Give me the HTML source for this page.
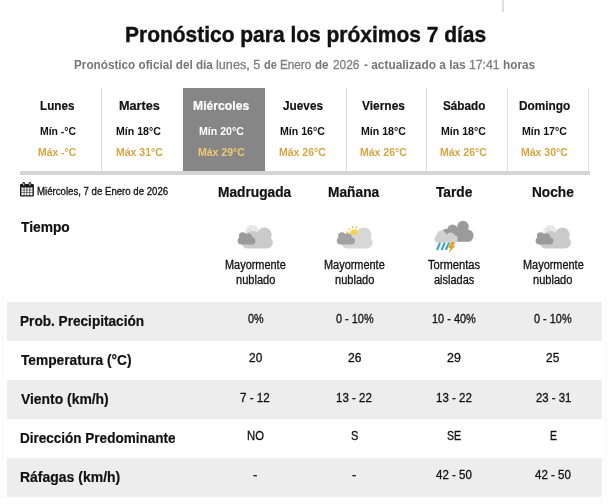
<!DOCTYPE html>
<html lang="es">
<head>
<meta charset="utf-8">
<title>Pronóstico para los próximos 7 días</title>
<style>
*{box-sizing:border-box;margin:0;padding:0}
html,body{width:610px;height:504px;overflow:hidden;background:#fff}
body{font-family:"Liberation Sans",sans-serif;color:#161616;position:relative}
.bx{position:absolute}
.t{position:absolute;white-space:nowrap;line-height:1;transform-origin:0 0}
svg{position:absolute;overflow:visible}
</style>
</head>
<body>
<!-- stray divider at very top -->
<div class="bx" style="left:502.1px;top:0;width:1.7px;height:11.5px;background:#dedede"></div>
<div class="bx" style="left:1.5px;top:297px;width:1px;height:200px;background:#f8f8f8"></div>
<div class="bx" style="left:605px;top:297px;width:1px;height:200px;background:#f9f9f9"></div>
<div class="bx" style="left:7.3px;top:499.5px;width:595px;height:4.5px;background:#fcfcfc"></div>

<!-- day tabs -->
<div class="bx" style="left:20px;top:171.3px;width:569.7px;height:3.3px;background:#d4d4d4"></div>
<div class="bx" style="left:183.3px;top:88px;width:81.4px;height:83px;background:#868686"></div>
<div class="bx" style="left:100.7px;top:88px;width:1px;height:83.3px;background:#dcdcdc"></div>
<div class="bx" style="left:345.5px;top:88px;width:1px;height:83.3px;background:#dcdcdc"></div>
<div class="bx" style="left:426.3px;top:88px;width:1px;height:83.3px;background:#dcdcdc"></div>
<div class="bx" style="left:506.5px;top:88px;width:1px;height:83.3px;background:#dcdcdc"></div>
<div class="bx" style="left:588.3px;top:88px;width:1px;height:83.3px;background:#dcdcdc"></div>

<!-- striped rows -->
<div class="bx" style="left:7.3px;top:302px;width:594.9px;height:38.8px;background:#ededed"></div>
<div class="bx" style="left:7.3px;top:379.8px;width:594.9px;height:38.9px;background:#ededed"></div>
<div class="bx" style="left:7.3px;top:457.8px;width:594.9px;height:38.8px;background:#ededed"></div>
<!-- calendar icon -->
<svg style="left:20.2px;top:182px" width="13.9" height="14.6" viewBox="0 0 13.9 14.6">
<path fill="#1a1a1a" fill-rule="evenodd" d="M1.1 1.9H12.8A1.1 1.1 0 0 1 13.9 3V13.5A1.1 1.1 0 0 1 12.8 14.6H1.1A1.1 1.1 0 0 1 0 13.5V3A1.1 1.1 0 0 1 1.1 1.9ZM1.4 5.5H3.7V7.7H1.4ZM1.4 8.3H3.7V10.5H1.4ZM1.4 11.1H3.7V13.3H1.4ZM4.4 5.5H6.6V7.7H4.4ZM4.4 8.3H6.6V10.5H4.4ZM4.4 11.1H6.6V13.3H4.4ZM7.3 5.5H9.5V7.7H7.3ZM7.3 8.3H9.5V10.5H7.3ZM7.3 11.1H9.5V13.3H7.3ZM10.2 5.5H12.5V7.7H10.2ZM10.2 8.3H12.5V10.5H10.2ZM10.2 11.1H12.5V13.3H10.2Z"/>
<rect x="2.4" y="0" width="2.7" height="4.3" rx="1.35" fill="#1a1a1a"/>
<rect x="8.6" y="0" width="2.7" height="4.3" rx="1.35" fill="#1a1a1a"/>
<rect x="3.25" y="0.9" width="1" height="2.6" rx="0.5" fill="#e8e8e8"/>
<rect x="9.45" y="0.9" width="1" height="2.6" rx="0.5" fill="#e8e8e8"/>
</svg>

<!-- weather icons -->
<svg style="left:0;top:0" width="610" height="504" viewBox="0 0 610 504">
<defs>
  <g id="bigcloud">
    <rect x="4" y="12" width="31.3" height="11.7" rx="5.8"/>
    <circle cx="26.8" cy="10" r="7.3"/>
    <circle cx="15" cy="12.2" r="6.3"/>
    <rect x="12" y="10" width="18" height="9"/>
  </g>
  <g id="smallcloud">
    <rect x="0" y="12.4" width="17.8" height="7.3" rx="3.65"/>
    <circle cx="5" cy="11.2" r="3.7"/>
    <circle cx="10.6" cy="12.6" r="4.2"/>
    <rect x="4" y="12" width="9" height="5"/>
  </g>
  <g id="nightcloud">
    <circle cx="14.6" cy="7.2" r="7.2" fill="#e9e9e9"/>
    <circle cx="12.2" cy="4.6" r="1.4" fill="#dedede"/>
    <circle cx="17.2" cy="3.4" r="0.9" fill="#dedede"/>
    <use href="#bigcloud" fill="#cacaca"/>
    <use href="#smallcloud" fill="#9a9a9a"/>
  </g>
</defs>
<!-- Madrugada: mostly cloudy night -->
<use href="#nightcloud" x="237.6" y="224.8"/>
<!-- Noche -->
<use href="#nightcloud" x="535.6" y="224.8"/>

<!-- Mañana: mostly cloudy day -->
<g transform="translate(336.7 224.8)">
  <path d="M22.78 4.72L23.63 3.87M19.69 2.94L20.00 1.78M16.11 2.94L15.80 1.78M13.02 4.72L12.17 3.87M11.24 7.81L10.08 7.50M11.24 11.39L10.08 11.70" stroke="#f3c65c" stroke-width="1.4" stroke-linecap="round" fill="none"/>
  <circle cx="17.9" cy="9.6" r="5.2" fill="#f4d348"/>
  <g fill="#d7d7d7" transform="translate(0.6 0)">
    <rect x="4" y="12" width="31.3" height="11.7" rx="5.8"/>
    <circle cx="26.8" cy="10" r="7.3"/>
    <circle cx="15" cy="15.4" r="6.2"/>
    <rect x="12" y="13" width="18" height="8"/>
  </g>
  <g fill="#a2a2a2" transform="translate(0 0) scale(1.03 1)"><use href="#smallcloud"/></g>
</g>

<!-- Tarde: isolated storms -->
<g transform="translate(434.5 220.8)">
  <g fill="#9b9b9b">
    <rect x="10" y="9.5" width="28.8" height="11.5" rx="5.7"/>
    <circle cx="28.5" cy="5.8" r="5.8"/>
    <circle cx="18" cy="9" r="5.2"/>
    <circle cx="12" cy="12.5" r="4.6"/>
    <circle cx="33" cy="14.6" r="6"/>
    <rect x="16" y="7" width="16" height="10"/>
  </g>
  <g fill="#d1d1d1">
    <rect x="0" y="14.2" width="23.2" height="7.7" rx="3.85"/>
    <circle cx="7" cy="14.6" r="4.8"/>
    <circle cx="16" cy="16.4" r="4.6"/>
    <rect x="5" y="14" width="13" height="6"/>
  </g>
  <g stroke="#43a5c8" stroke-width="2.2" stroke-linecap="round">
    <path d="M5.3 22.6L2.8 28.4M9.9 22.6L7.4 28.4M14.2 22.6L11.7 28.2"/>
  </g>
  <path fill="#e9a225" d="M16.4 21.2H20.6L18.9 25.1H20.8L14 32.4L15.9 27.2H13.9Z"/>
</g>
</svg>
<!-- text -->
<div class="t" style="left:124.57px;top:24.20px;font-size:22px;color:#111;transform:scaleX(0.9529);font-weight:bold;-webkit-text-stroke:0.4px;">Pronóstico para los próximos 7 días</div>
<div class="t" style="left:74.48px;top:59.20px;font-size:12.5px;color:#767676;transform:scaleX(0.9387);font-weight:bold;">Pronóstico oficial del día</div>
<div class="t" style="left:216.41px;top:59.20px;font-size:12.5px;color:#7e7e7e;transform:scaleX(1.0147);-webkit-text-stroke:0.3px;">lunes, 5</div>
<div class="t" style="left:263.86px;top:59.20px;font-size:12.5px;color:#767676;transform:scaleX(0.8807);font-weight:bold;">de</div>
<div class="t" style="left:280.46px;top:59.20px;font-size:12.5px;color:#7e7e7e;transform:scaleX(0.9380);-webkit-text-stroke:0.3px;">Enero</div>
<div class="t" style="left:315.44px;top:59.20px;font-size:12.5px;color:#767676;transform:scaleX(0.9248);font-weight:bold;">de</div>
<div class="t" style="left:332.51px;top:59.20px;font-size:12.5px;color:#7e7e7e;transform:scaleX(0.9502);-webkit-text-stroke:0.3px;">2026</div>
<div class="t" style="left:364.12px;top:59.20px;font-size:12.5px;color:#767676;transform:scaleX(0.9509);font-weight:bold;">- actualizado a las</div>
<div class="t" style="left:469.02px;top:59.20px;font-size:12.5px;color:#7e7e7e;transform:scaleX(0.9782);-webkit-text-stroke:0.3px;">17:41</div>
<div class="t" style="left:502.87px;top:59.20px;font-size:12.5px;color:#767676;transform:scaleX(0.9441);font-weight:bold;">horas</div>
<div class="t" style="left:40.31px;top:99.30px;font-size:13px;color:#111;transform:scaleX(0.9003);font-weight:bold;-webkit-text-stroke:0.2px;">Lunes</div>
<div class="t" style="left:39.52px;top:125.80px;font-size:11.5px;color:#111;transform:scaleX(0.9061);font-weight:bold;">Mín -°C</div>
<div class="t" style="left:38.42px;top:146.90px;font-size:11.5px;color:#d8a53e;transform:scaleX(0.9018);font-weight:bold;">Máx -°C</div>
<div class="t" style="left:118.50px;top:99.30px;font-size:13px;color:#111;transform:scaleX(0.9753);font-weight:bold;-webkit-text-stroke:0.2px;">Martes</div>
<div class="t" style="left:116.46px;top:125.80px;font-size:11.5px;color:#111;transform:scaleX(0.9218);font-weight:bold;">Mín 18°C</div>
<div class="t" style="left:115.51px;top:146.90px;font-size:11.5px;color:#d8a53e;transform:scaleX(0.9137);font-weight:bold;">Máx 31°C</div>
<div class="t" style="left:192.88px;top:99.30px;font-size:13px;color:#fff;transform:scaleX(0.9382);font-weight:bold;-webkit-text-stroke:0.2px;">Miércoles</div>
<div class="t" style="left:198.56px;top:125.80px;font-size:11.5px;color:#fff;transform:scaleX(0.9218);font-weight:bold;">Mín 20°C</div>
<div class="t" style="left:197.61px;top:146.90px;font-size:11.5px;color:#f3c873;transform:scaleX(0.9137);font-weight:bold;">Máx 29°C</div>
<div class="t" style="left:282.77px;top:99.30px;font-size:13px;color:#111;transform:scaleX(0.9084);font-weight:bold;-webkit-text-stroke:0.2px;">Jueves</div>
<div class="t" style="left:280.06px;top:125.80px;font-size:11.5px;color:#111;transform:scaleX(0.9218);font-weight:bold;">Mín 16°C</div>
<div class="t" style="left:279.11px;top:146.90px;font-size:11.5px;color:#d8a53e;transform:scaleX(0.9137);font-weight:bold;">Máx 26°C</div>
<div class="t" style="left:361.99px;top:99.30px;font-size:13px;color:#111;transform:scaleX(0.9192);font-weight:bold;-webkit-text-stroke:0.2px;">Viernes</div>
<div class="t" style="left:360.66px;top:125.80px;font-size:11.5px;color:#111;transform:scaleX(0.9218);font-weight:bold;">Mín 18°C</div>
<div class="t" style="left:359.71px;top:146.90px;font-size:11.5px;color:#d8a53e;transform:scaleX(0.9137);font-weight:bold;">Máx 26°C</div>
<div class="t" style="left:442.56px;top:99.30px;font-size:13px;color:#111;transform:scaleX(0.9019);font-weight:bold;-webkit-text-stroke:0.2px;">Sábado</div>
<div class="t" style="left:441.06px;top:125.80px;font-size:11.5px;color:#111;transform:scaleX(0.9218);font-weight:bold;">Mín 18°C</div>
<div class="t" style="left:440.11px;top:146.90px;font-size:11.5px;color:#d8a53e;transform:scaleX(0.9137);font-weight:bold;">Máx 26°C</div>
<div class="t" style="left:519.20px;top:99.30px;font-size:13px;color:#111;transform:scaleX(0.9091);font-weight:bold;-webkit-text-stroke:0.2px;">Domingo</div>
<div class="t" style="left:522.36px;top:125.80px;font-size:11.5px;color:#111;transform:scaleX(0.9218);font-weight:bold;">Mín 17°C</div>
<div class="t" style="left:521.41px;top:146.90px;font-size:11.5px;color:#d8a53e;transform:scaleX(0.9137);font-weight:bold;">Máx 30°C</div>
<div class="t" style="left:37.00px;top:185.60px;font-size:10.5px;color:#111;transform:scaleX(0.9172);-webkit-text-stroke:0.3px;">Miércoles, 7 de Enero de 2026</div>
<div class="t" style="left:218.34px;top:184.80px;font-size:14px;color:#111;transform:scaleX(0.9800);font-weight:bold;-webkit-text-stroke:0.2px;">Madrugada</div>
<div class="t" style="left:328.39px;top:184.80px;font-size:14px;color:#111;transform:scaleX(0.9830);font-weight:bold;-webkit-text-stroke:0.2px;">Mañana</div>
<div class="t" style="left:435.78px;top:184.80px;font-size:14px;color:#111;transform:scaleX(0.9808);font-weight:bold;-webkit-text-stroke:0.2px;">Tarde</div>
<div class="t" style="left:532.10px;top:184.80px;font-size:14px;color:#111;transform:scaleX(0.9759);font-weight:bold;-webkit-text-stroke:0.2px;">Noche</div>
<div class="t" style="left:20.78px;top:220.40px;font-size:14px;color:#111;transform:scaleX(0.9841);font-weight:bold;-webkit-text-stroke:0.2px;">Tiempo</div>
<div class="t" style="left:20.05px;top:313.70px;font-size:14px;color:#111;transform:scaleX(0.9724);font-weight:bold;-webkit-text-stroke:0.2px;">Prob. Precipitación</div>
<div class="t" style="left:20.78px;top:352.80px;font-size:14px;color:#111;transform:scaleX(0.9806);font-weight:bold;-webkit-text-stroke:0.2px;">Temperatura (°C)</div>
<div class="t" style="left:20.78px;top:391.80px;font-size:14px;color:#111;transform:scaleX(0.9917);font-weight:bold;-webkit-text-stroke:0.2px;">Viento (km/h)</div>
<div class="t" style="left:20.06px;top:430.90px;font-size:14px;color:#111;transform:scaleX(0.9653);font-weight:bold;-webkit-text-stroke:0.2px;">Dirección Predominante</div>
<div class="t" style="left:20.03px;top:469.90px;font-size:14px;color:#111;transform:scaleX(0.9985);font-weight:bold;-webkit-text-stroke:0.2px;">Ráfagas (km/h)</div>
<div class="t" style="left:224.84px;top:259.30px;font-size:12px;color:#111;transform:scaleX(0.9106);-webkit-text-stroke:0.3px;">Mayormente</div>
<div class="t" style="left:235.61px;top:274.00px;font-size:12px;color:#111;transform:scaleX(0.9205);-webkit-text-stroke:0.3px;">nublado</div>
<div class="t" style="left:323.94px;top:259.30px;font-size:12px;color:#111;transform:scaleX(0.9106);-webkit-text-stroke:0.3px;">Mayormente</div>
<div class="t" style="left:334.71px;top:274.00px;font-size:12px;color:#111;transform:scaleX(0.9205);-webkit-text-stroke:0.3px;">nublado</div>
<div class="t" style="left:427.82px;top:259.30px;font-size:12px;color:#111;transform:scaleX(0.9300);-webkit-text-stroke:0.3px;">Tormentas</div>
<div class="t" style="left:433.64px;top:274.00px;font-size:12px;color:#111;transform:scaleX(0.9136);-webkit-text-stroke:0.3px;">aisladas</div>
<div class="t" style="left:522.64px;top:259.30px;font-size:12px;color:#111;transform:scaleX(0.9106);-webkit-text-stroke:0.3px;">Mayormente</div>
<div class="t" style="left:533.41px;top:274.00px;font-size:12px;color:#111;transform:scaleX(0.9205);-webkit-text-stroke:0.3px;">nublado</div>
<div class="t" style="left:247.55px;top:313.00px;font-size:12px;color:#111;transform:scaleX(0.8970);-webkit-text-stroke:0.3px;">0%</div>
<div class="t" style="left:335.65px;top:313.00px;font-size:12px;color:#111;transform:scaleX(0.9086);-webkit-text-stroke:0.3px;">0 - 10%</div>
<div class="t" style="left:431.70px;top:313.00px;font-size:12px;color:#111;transform:scaleX(0.9112);-webkit-text-stroke:0.3px;">10 - 40%</div>
<div class="t" style="left:534.35px;top:313.00px;font-size:12px;color:#111;transform:scaleX(0.9086);-webkit-text-stroke:0.3px;">0 - 10%</div>
<div class="t" style="left:248.68px;top:352.20px;font-size:12px;color:#111;transform:scaleX(0.9959);-webkit-text-stroke:0.3px;">20</div>
<div class="t" style="left:347.72px;top:352.20px;font-size:12px;color:#111;transform:scaleX(1.0041);-webkit-text-stroke:0.3px;">26</div>
<div class="t" style="left:446.91px;top:352.20px;font-size:12px;color:#111;transform:scaleX(1.0309);-webkit-text-stroke:0.3px;">29</div>
<div class="t" style="left:546.48px;top:352.20px;font-size:12px;color:#111;transform:scaleX(0.9959);-webkit-text-stroke:0.3px;">25</div>
<div class="t" style="left:240.49px;top:391.50px;font-size:12px;color:#111;transform:scaleX(0.9695);-webkit-text-stroke:0.3px;">7 - 12</div>
<div class="t" style="left:336.46px;top:391.50px;font-size:12px;color:#111;transform:scaleX(0.9589);-webkit-text-stroke:0.3px;">13 - 22</div>
<div class="t" style="left:435.76px;top:391.50px;font-size:12px;color:#111;transform:scaleX(0.9589);-webkit-text-stroke:0.3px;">13 - 22</div>
<div class="t" style="left:535.51px;top:391.50px;font-size:12px;color:#111;transform:scaleX(0.9467);-webkit-text-stroke:0.3px;">23 - 31</div>
<div class="t" style="left:246.76px;top:430.20px;font-size:12px;color:#111;transform:scaleX(0.9405);-webkit-text-stroke:0.3px;">NO</div>
<div class="t" style="left:350.79px;top:430.20px;font-size:12px;color:#111;transform:scaleX(0.9286);-webkit-text-stroke:0.3px;">S</div>
<div class="t" style="left:446.76px;top:430.20px;font-size:12px;color:#111;transform:scaleX(0.8800);-webkit-text-stroke:0.3px;">SE</div>
<div class="t" style="left:549.54px;top:430.20px;font-size:12px;color:#111;transform:scaleX(0.8615);-webkit-text-stroke:0.3px;">E</div>
<div class="t" style="left:253.20px;top:469.00px;font-size:12px;color:#111;transform:scaleX(1.1000);-webkit-text-stroke:0.3px;">-</div>
<div class="t" style="left:352.30px;top:469.00px;font-size:12px;color:#111;transform:scaleX(1.1000);-webkit-text-stroke:0.3px;">-</div>
<div class="t" style="left:436.01px;top:469.00px;font-size:12px;color:#111;transform:scaleX(0.9584);-webkit-text-stroke:0.3px;">42 - 50</div>
<div class="t" style="left:535.41px;top:469.00px;font-size:12px;color:#111;transform:scaleX(0.9584);-webkit-text-stroke:0.3px;">42 - 50</div>
</body>
</html>
